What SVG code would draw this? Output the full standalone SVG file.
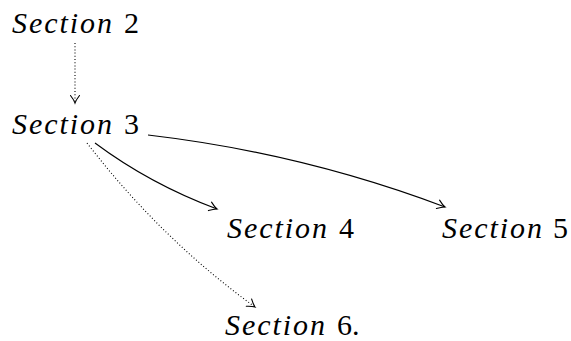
<svg xmlns="http://www.w3.org/2000/svg" width="571" height="341" viewBox="0 0 571 341">
<style>
text { font-family: "Liberation Serif", "Times New Roman", Times, Tinos, "Noto Serif", "DejaVu Serif", FreeSerif, serif; font-size: 30px; fill: #000; }
.it { font-style: italic; }
.edge { fill: none; stroke: #000; stroke-width: 1.1; }
.dot { stroke-dasharray: 1 2.2; }
</style>
<defs>
<marker id="arr" markerUnits="userSpaceOnUse" markerWidth="14" markerHeight="14" refX="0" refY="0" viewBox="-10 -7 12 14" orient="auto" overflow="visible">
<path d="M -7.5 -4.5 Q -3 -1 0 0 Q -3 1 -7.5 4.5" fill="none" stroke="#000" stroke-width="1.1" stroke-linecap="round"/>
</marker>
</defs>
<rect width="571" height="341" fill="#fff"/>
<g id="connectors">
<path class="edge dot" d="M 75 43 L 75 103" marker-end="url(#arr)"/>
<path class="edge" d="M 95 143 Q 150 184 217 209" marker-end="url(#arr)"/>
<path class="edge" d="M 148 135 Q 302 153 445 207" marker-end="url(#arr)"/>
<path class="edge dot" d="M 87 143 Q 161 239 255 307" marker-end="url(#arr)"/>
</g>
<g id="section2"><text x="12" y="33"><tspan class="it" textLength="100" lengthAdjust="spacing">Section</tspan><tspan x="124">2</tspan></text></g>
<g id="section3"><text x="12" y="134"><tspan class="it" textLength="100" lengthAdjust="spacing">Section</tspan><tspan x="124">3</tspan></text></g>
<g id="section4"><text x="227" y="238"><tspan class="it" textLength="100" lengthAdjust="spacing">Section</tspan><tspan x="339">4</tspan></text></g>
<g id="section5"><text x="442" y="238"><tspan class="it" textLength="100" lengthAdjust="spacing">Section</tspan><tspan x="553">5</tspan></text></g>
<g id="section6"><text x="225" y="335"><tspan class="it" textLength="100" lengthAdjust="spacing">Section</tspan><tspan x="337">6.</tspan></text></g>
</svg>
